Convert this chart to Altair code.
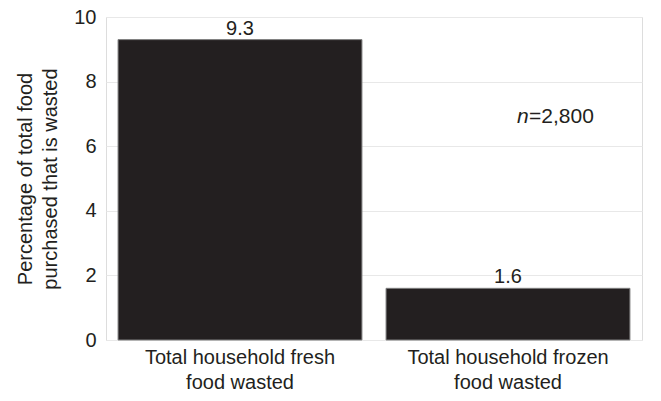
import altair as alt
import pandas as pd

categories = ["Total household fresh|food wasted", "Total household frozen|food wasted"]
values = [9.3, 1.6]
value_labels = ["9.3", "1.6"]
y_title = ["Percentage of total food", "purchased that is wasted"]
note_n = "n"
note_rest = "=2,800"
note_y = 6.9

df = pd.DataFrame({"cat": categories, "val": values, "lab": value_labels})
note_df = pd.DataFrame({"cat": [categories[1]], "val": [note_y]})

FONT = "Liberation Sans"
INK = "#231f20"
FS = 20

x = alt.X("cat:N", sort=categories, title=None,
          scale=alt.Scale(paddingInner=0.09, paddingOuter=0.045),
          axis=alt.Axis(labelExpr="split(datum.value, '|')", labelAngle=0,
                        labelFontSize=FS, labelColor=INK, labelFont=FONT,
                        labelLineHeight=25, ticks=False, domain=False,
                        labelPadding=7, grid=False, labelLimit=0))
y = alt.Y("val:Q", title=y_title,
          scale=alt.Scale(domain=[0, 10]),
          axis=alt.Axis(values=[0, 2, 4, 6, 8, 10], ticks=False, domain=False,
                        labelFontSize=FS, labelColor=INK, labelFont=FONT,
                        labelPadding=10, titleFontSize=FS, titleFont=FONT,
                        titleFontWeight="normal", titleColor=INK,
                        titlePadding=13, titleLineHeight=25,
                        gridColor="#e8e8e8", gridWidth=1))

bars = alt.Chart(df).mark_bar(color=INK, stroke="#808080", strokeWidth=1).encode(x=x, y=y)
labels = alt.Chart(df).mark_text(baseline="bottom", dy=-1, fontSize=FS, font=FONT, color=INK).encode(
    x=alt.X("cat:N", sort=categories), y="val:Q", text="lab:N")
n_txt = alt.Chart(note_df).mark_text(align="left", dx=9, fontSize=21, font=FONT,
                                      fontStyle="italic", color=INK).encode(
    x=alt.X("cat:N", sort=categories), y="val:Q", text=alt.value(note_n))
rest_txt = alt.Chart(note_df).mark_text(align="left", dx=21, fontSize=21, font=FONT,
                                         color=INK).encode(
    x=alt.X("cat:N", sort=categories), y="val:Q", text=alt.value(note_rest))

chart = alt.layer(bars, labels, n_txt, rest_txt).properties(
    width=536, height=323,
    autosize=alt.AutoSizeParams(type="none"),
    padding={"left": 98, "top": 9, "right": 11, "bottom": 53},
).configure_view(fill="#fbfbfb", stroke="#9a9a9a", strokeWidth=1.5).configure(background="white")

chart.save("out.html", embed_options={"renderer": "svg", "actions": False})
